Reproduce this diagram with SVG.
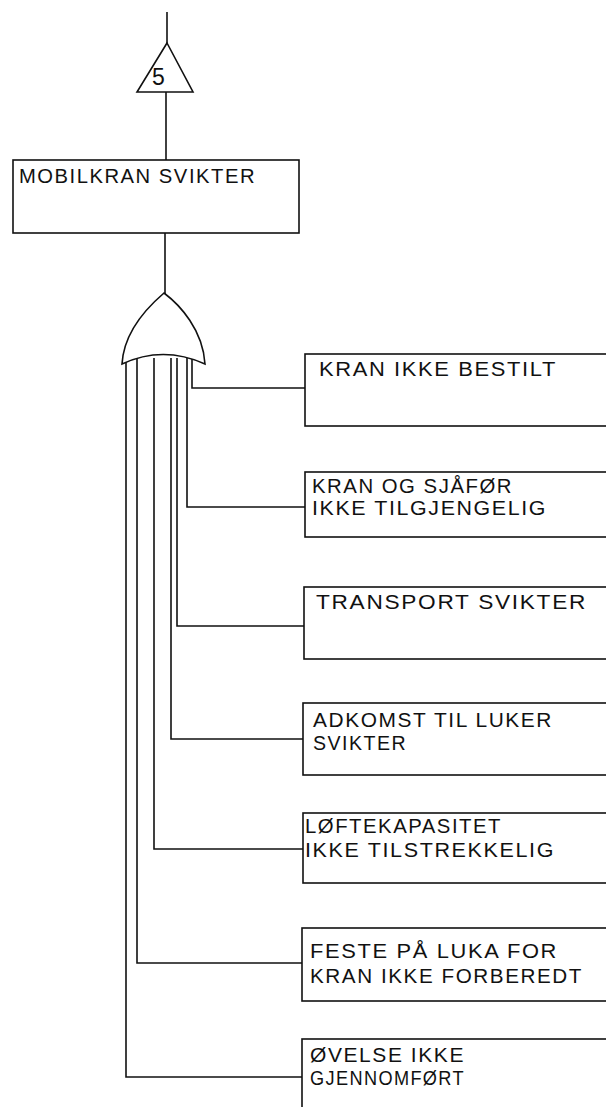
<svg xmlns="http://www.w3.org/2000/svg" width="606" height="1107" viewBox="0 0 606 1107">
<style>
.ln{fill:none;stroke:#111;stroke-width:1.6}
.bx{fill:#fff;stroke:#111;stroke-width:1.6}
.t{font-family:"Liberation Sans","DejaVu Sans",sans-serif;font-size:20px;letter-spacing:1.5px;fill:#111}
</style>
<rect width="606" height="1107" fill="#fff"/>
<g id="connectors">
<line class="ln" x1="167" y1="12" x2="167" y2="43"/>
<line class="ln" x1="166" y1="92" x2="166" y2="160"/>
<line class="ln" x1="165" y1="233" x2="165" y2="294"/>
<polyline class="ln" points="192,358 192,388 305,388"/>
<polyline class="ln" points="187,358 187,507 305,507"/>
<polyline class="ln" points="177,358 177,626 304,626"/>
<polyline class="ln" points="171,358 171,739 303,739"/>
<polyline class="ln" points="154,358 154,849 303,849"/>
<polyline class="ln" points="137,358 137,963 302,963"/>
<polyline class="ln" points="126,360 126,1077 302,1077"/>
</g>
<g id="transfer">
<polygon class="bx" points="167,43 137,92 193,92"/>
<text class="t" x="152" y="85" style="font-size:23px;letter-spacing:0">5</text>
</g>
<g id="top">
<rect class="bx" x="13" y="160" width="286" height="73"/>
<text class="t" x="19" y="183" textLength="237" lengthAdjust="spacingAndGlyphs">MOBILKRAN SVIKTER</text>
</g>
<g id="orgate">
<path class="bx" d="M164,293 C150,305 124,330 122,364 Q163,345 205,364 C203,330 180,305 164,293 Z"/>
</g>
<g id="e1">
<rect class="bx" x="305" y="354" width="320" height="72"/>
<text class="t" x="319" y="376" textLength="238" lengthAdjust="spacingAndGlyphs">KRAN IKKE BESTILT</text>
</g>
<g id="e2">
<rect class="bx" x="305" y="472" width="320" height="65"/>
<text class="t" x="312" y="493" textLength="201" lengthAdjust="spacingAndGlyphs">KRAN OG SJÅFØR</text>
<text class="t" x="312" y="515" textLength="235" lengthAdjust="spacingAndGlyphs">IKKE TILGJENGELIG</text>
</g>
<g id="e3">
<rect class="bx" x="304" y="587" width="320" height="72"/>
<text class="t" x="316" y="609" textLength="271" lengthAdjust="spacingAndGlyphs">TRANSPORT SVIKTER</text>
</g>
<g id="e4">
<rect class="bx" x="303" y="703" width="320" height="72"/>
<text class="t" x="313" y="727" textLength="240" lengthAdjust="spacingAndGlyphs">ADKOMST TIL LUKER</text>
<text class="t" x="313" y="750" textLength="94" lengthAdjust="spacingAndGlyphs">SVIKTER</text>
</g>
<g id="e5">
<rect class="bx" x="303" y="813" width="320" height="70"/>
<text class="t" x="305" y="833" textLength="197" lengthAdjust="spacingAndGlyphs">LØFTEKAPASITET</text>
<text class="t" x="305" y="857" textLength="250" lengthAdjust="spacingAndGlyphs">IKKE TILSTREKKELIG</text>
</g>
<g id="e6">
<rect class="bx" x="302" y="928" width="320" height="73"/>
<text class="t" x="310" y="958" textLength="248" lengthAdjust="spacingAndGlyphs">FESTE PÅ LUKA FOR</text>
<text class="t" x="310" y="983" textLength="273" lengthAdjust="spacingAndGlyphs">KRAN IKKE FORBEREDT</text>
</g>
<g id="e7">
<rect class="bx" x="302" y="1039" width="320" height="80"/>
<text class="t" x="310" y="1062" textLength="155" lengthAdjust="spacingAndGlyphs">ØVELSE IKKE</text>
<text class="t" x="310" y="1085" textLength="155" lengthAdjust="spacingAndGlyphs">GJENNOMFØRT</text>
</g>
</svg>
